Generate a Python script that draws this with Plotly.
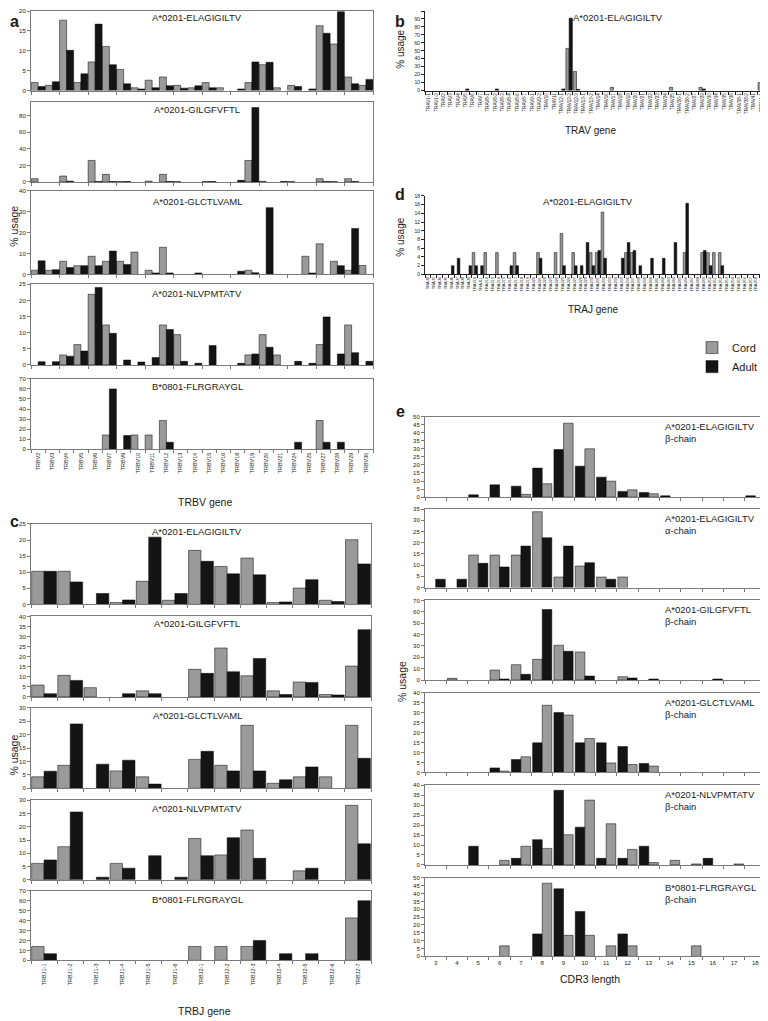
import plotly.graph_objects as go

# the page body adds an 8 px margin, so the figure is 8 px smaller than the window
PAGE_OFFSET = 8
FW, FH = 760, 1013
CORD_COLOR = "#9a9a9a"
ADULT_COLOR = "#141414"
FRAME = "#7a7a7a"
TEXT = "#1a1a1a"
FONT = "Liberation Sans, Arial, sans-serif"

# ---------------- panel a : TRBV usage ----------------
TRBV = ["TRBV2", "TRBV3", "TRBV4", "TRBV5", "TRBV6", "TRBV7", "TRBV9", "TRBV10",
        "TRBV11", "TRBV12", "TRBV13", "TRBV14", "TRBV15", "TRBV16", "TRBV18", "TRBV19",
        "TRBV20", "TRBV21", "TRBV24", "TRBV25", "TRBV27", "TRBV28", "TRBV29", "TRBV30"]
A_ELA_CORD = [2.0, 1.3, 17.7, 2.0, 7.2, 11.1, 5.3, 0.7, 2.6, 3.4, 1.3, 0.7, 2.0, 0.7, 0, 2.0, 6.5, 0.7, 1.3, 0, 16.3, 11.7, 3.4, 1.3]
A_ELA_ADULT = [1.0, 2.2, 10.1, 4.2, 16.7, 6.5, 1.7, 0.4, 0.7, 1.2, 0.6, 1.2, 0.7, 0, 0.4, 7.2, 7.1, 0, 1.0, 0.4, 14.4, 19.8, 1.7, 2.8]
A_GIL_CORD = [4, 0, 7.2, 0, 26, 9.2, 0.5, 0, 1, 9.2, 0.5, 0, 0.5, 0, 0, 26, 0.8, 0, 0.5, 0, 4, 0.5, 4, 0]
A_GIL_ADULT = [0, 0, 1, 0, 0.5, 0.5, 0.5, 0, 0, 0.5, 0, 0, 0.5, 0, 2, 90, 0, 0.5, 0, 0, 0.5, 0, 0.5, 0]
A_GLC_CORD = [2, 2, 6.3, 4.2, 8.7, 6.3, 6.3, 10.7, 2, 13, 0, 0, 0, 0, 0, 2, 0, 0, 0, 8.7, 14.7, 6.3, 2, 4.3]
A_GLC_ADULT = [6.5, 2.3, 3.3, 4.2, 4.2, 11.2, 4.8, 0, 0.7, 0.7, 0, 0.7, 0, 0, 1.5, 0.8, 32, 0, 0, 0.7, 0, 4.2, 22, 0]
A_NLV_CORD = [0, 0, 3.1, 6.3, 21.9, 12.4, 0, 0, 0, 12.4, 9.4, 0, 0, 0, 0, 3.1, 9.4, 3.1, 0, 0, 6.3, 0, 12.4, 0]
A_NLV_ADULT = [1.0, 1.0, 2.7, 4.3, 24, 9.8, 1.5, 0.9, 2.3, 11, 1.1, 0.5, 6, 0, 0.5, 3.4, 5.5, 0, 1.1, 0.5, 14.9, 3.4, 3.8, 1.1]
A_FLR_CORD = [0, 0, 0, 0, 0, 14.3, 0, 14.3, 14.3, 28.6, 0, 0, 0, 0, 0, 0, 0, 0, 0, 0, 28.6, 0, 0, 0]
A_FLR_ADULT = [0, 0, 0, 0, 0, 60, 13.7, 0, 0, 7.1, 0, 0, 0, 0, 0, 0, 0, 0, 7.1, 0, 7.1, 7.1, 0, 0]

# ---------------- panel b : TRAV usage ----------------
TRAV = ["TRAV1-1", "TRAV1-2", "TRAV2", "TRAV3", "TRAV4", "TRAV5", "TRAV6", "TRAV7",
        "TRAV8-1", "TRAV8-2", "TRAV8-3", "TRAV8-4", "TRAV8-6", "TRAV8-7", "TRAV9-1", "TRAV9-2",
        "TRAV10", "TRAV11", "TRAV12-1", "TRAV12-2", "TRAV12-3", "TRAV13-1", "TRAV13-2", "TRAV14",
        "TRAV16", "TRAV17", "TRAV18", "TRAV19", "TRAV20", "TRAV21", "TRAV22", "TRAV23",
        "TRAV24", "TRAV25", "TRAV26-1", "TRAV26-2", "TRAV27", "TRAV29", "TRAV30", "TRAV34",
        "TRAV35", "TRAV36", "TRAV38-1", "TRAV38-2", "TRAV41", "TRDV1-1"]
B_CORD = [0, 0, 0, 0, 0, 0, 0, 0, 0, 0, 0, 0, 0, 0, 0, 0, 0, 0, 0, 53, 24, 0, 0, 0,
          0, 4, 0, 0, 0, 0, 0, 0, 0, 4, 0, 0, 0, 4, 0, 0, 0, 0, 0, 0, 0, 10]
B_ADULT = [0, 0, 0, 0, 0, 2, 0, 0, 0, 2, 0, 0, 0, 0, 0, 0, 0, 0, 2, 91, 1.5, 0, 0, 0,
           0, 0, 0, 0, 0, 0, 0, 0, 0, 0, 0, 0, 0, 2, 0, 0, 0, 0, 0, 0, 0, 0]

# ---------------- panel c : TRBJ usage ----------------
TRBJ = ["TRBJ1-1", "TRBJ1-2", "TRBJ1-3", "TRBJ1-4", "TRBJ1-5", "TRBJ1-6", "TRBJ2-1",
        "TRBJ2-2", "TRBJ2-3", "TRBJ2-4", "TRBJ2-5", "TRBJ2-6", "TRBJ2-7"]
C_ELA_CORD = [10.3, 10.3, 0, 0.6, 7.2, 1.3, 16.8, 11.8, 14.4, 0.6, 5.1, 1.3, 20.1]
C_ELA_ADULT = [10.3, 7.0, 3.4, 1.4, 20.9, 3.4, 13.4, 9.5, 9.2, 0.8, 7.7, 0.9, 12.6]
C_GIL_CORD = [5.9, 10.7, 4.6, 0, 3.0, 0, 13.7, 24.3, 10.5, 3.0, 7.4, 1.2, 15.3]
C_GIL_ADULT = [1.6, 8.2, 0, 1.6, 1.6, 0, 11.7, 12.5, 19.1, 1.2, 7.2, 1.0, 33.4]
C_GLC_CORD = [4.3, 8.6, 0, 6.5, 4.3, 0, 10.8, 8.6, 23.5, 1.9, 4.3, 4.3, 23.5]
C_GLC_ADULT = [6.4, 24.0, 9.0, 10.5, 1.6, 0, 13.8, 6.5, 6.5, 3.2, 8.0, 0, 11.2]
C_NLV_CORD = [6.2, 12.5, 0, 6.2, 0, 0, 15.6, 9.4, 18.8, 0, 3.4, 0, 28.1]
C_NLV_ADULT = [7.5, 25.6, 1.0, 4.4, 9.1, 1.0, 9.1, 15.9, 8.1, 0, 4.4, 0, 13.6]
C_FLR_CORD = [14.0, 0, 0, 0, 0, 0, 14.0, 14.0, 14.0, 0, 0, 0, 42.7]
C_FLR_ADULT = [6.7, 0, 0, 0, 0, 0, 0, 0, 20.0, 6.7, 6.7, 0, 60.0]

# ---------------- panel d : TRAJ usage ----------------
TRAJ = ["TRAJ2", "TRAJ3", "TRAJ4", "TRAJ5", "TRAJ6", "TRAJ7", "TRAJ8", "TRAJ9", "TRAJ10",
        "TRAJ11", "TRAJ12", "TRAJ13", "TRAJ14", "TRAJ15", "TRAJ16", "TRAJ17", "TRAJ18",
        "TRAJ19", "TRAJ20", "TRAJ21", "TRAJ22", "TRAJ23", "TRAJ24", "TRAJ25", "TRAJ26",
        "TRAJ27", "TRAJ28", "TRAJ29", "TRAJ30", "TRAJ31", "TRAJ32", "TRAJ33", "TRAJ34",
        "TRAJ35", "TRAJ36", "TRAJ37", "TRAJ38", "TRAJ39", "TRAJ40", "TRAJ41", "TRAJ42",
        "TRAJ43", "TRAJ44", "TRAJ45", "TRAJ46", "TRAJ47", "TRAJ48", "TRAJ49", "TRAJ50",
        "TRAJ51", "TRAJ52", "TRAJ53", "TRAJ54", "TRAJ55", "TRAJ56", "TRAJ57", "TRAJ58", "TRAJ59"]
D_CORD = [0, 0, 0, 0, 0, 0, 0, 0, 5, 0,
          5, 0, 5, 0, 0, 5, 0, 0, 0, 5,
          0, 0, 5, 9.4, 0, 5, 0, 0, 5, 5,
          14.3, 0, 0, 0, 5, 5, 0, 0, 0, 0,
          0, 0, 0, 0, 5, 0, 0, 5, 5, 5,
          5, 0, 0, 0, 0, 0, 0, 0]
D_ADULT = [0, 0, 0, 0, 2, 3.7, 0, 2, 2, 2,
           0, 0, 0, 0, 2, 2, 0, 0, 0, 3.7,
           0, 0, 0, 2, 0, 2, 2, 7.3, 2, 5.5,
           3.7, 0, 0, 3.7, 7.3, 5.5, 2, 0, 3.7, 0,
           3.7, 0, 7.3, 0, 16.3, 0, 0, 5.5, 2, 0,
           2, 0, 0, 0, 0, 0, 0, 0]

# ---------------- panel e : CDR3 length ----------------
CDR3 = ["3", "4", "5", "6", "7", "8", "9", "10", "11", "12", "13", "14", "15", "16", "17", "18"]
E_ELA_B_CORD = [0, 0, 0, 0, 1.7, 8.3, 45.9, 30, 9.9, 4.5, 2.1, 0, 0, 0, 0, 0]
E_ELA_B_ADULT = [0, 0, 1.4, 7.6, 6.8, 18, 29.5, 19.2, 12.4, 3.5, 2.9, 0.8, 0, 0, 0, 0.8]
E_ELA_A_CORD = [0, 0, 14.5, 14.5, 14.5, 33.8, 4.7, 9.6, 4.7, 4.7, 0, 0, 0, 0, 0, 0]
E_ELA_A_ADULT = [3.7, 3.7, 10.8, 9.2, 18.5, 22.2, 18.5, 11.1, 3.7, 0, 0, 0, 0, 0, 0, 0]
E_GIL_CORD = [0, 1.5, 0, 8.8, 13.5, 18.2, 30.6, 24.7, 0, 2.9, 0, 0, 0, 0, 0, 0]
E_GIL_ADULT = [0, 0, 0, 0.9, 5, 62, 25.3, 3.5, 0, 1.8, 0.9, 0, 0, 0.9, 0, 0]
E_GLC_CORD = [0, 0, 0, 0.7, 7.9, 33.8, 28.9, 17.1, 4.8, 4, 3.2, 0, 0, 0, 0, 0]
E_GLC_ADULT = [0, 0, 0, 2.3, 6.5, 14.9, 30.1, 14.9, 14.9, 13, 4.5, 0, 0, 0, 0, 0]
E_NLV_CORD = [0, 0, 0, 2.3, 9.4, 8.3, 15.2, 32.6, 20.7, 7.8, 1.2, 2.3, 0.5, 0, 0.5, 0]
E_NLV_ADULT = [0, 0, 9.4, 0, 3.3, 12.7, 37.5, 19, 3.3, 3.3, 9.4, 0, 0, 3.3, 0, 0]
E_FLR_CORD = [0, 0, 0, 6.7, 0, 46.6, 13.4, 13.4, 6.7, 6.7, 0, 0, 6.7, 0, 0, 0]
E_FLR_ADULT = [0, 0, 0, 0, 0, 14.3, 43, 28.6, 0, 14.3, 0, 0, 0, 0, 0, 0]

fig = go.Figure()
annotations = []
count = [0]


def fx(x):
    # page pixel -> paper fraction
    return max(x - PAGE_OFFSET, 0) / FW


def fy(y):
    return 1 - max(y - PAGE_OFFSET, 0) / FH


def note(text, x, y, size=9.5, xanchor="center", yanchor="middle", **kw):
    annotations.append(dict(text=text, x=fx(x), y=fy(y), xref="paper", yref="paper",
                            xanchor=xanchor, yanchor=yanchor, showarrow=False,
                            font=dict(size=size, color=TEXT), **kw))


def panel(cats, cord, adult, box, ymax, dtick, framed=True, adult_left=False,
          fill=0.96, xlabels=False, xlabel_size=5.5, ytick_size=6, legend=False):
    count[0] += 1
    sfx = "" if count[0] == 1 else str(count[0])
    left, right, top, bottom = box
    half = fill / 2
    series = [("Cord", cord, CORD_COLOR), ("Adult", adult, ADULT_COLOR)]
    if adult_left:
        series = series[::-1]
    for j, (name, vals, color) in enumerate(series):
        fig.add_trace(go.Bar(
            x=cats, y=[v if v else None for v in vals], name=name,
            width=half, offset=-half if j == 0 else 0,
            marker=dict(color=color, line=dict(color="#000000", width=0.5)),
            xaxis="x" + sfx, yaxis="y" + sfx, showlegend=legend,
        ))
    line_color = FRAME if framed else "#222222"
    fig.update_layout(**{
        "xaxis" + sfx: dict(
            domain=[fx(left), fx(right)], anchor="y" + sfx, type="category",
            range=[-0.5, len(cats) - 0.5], tickson="boundaries", ticks="outside",
            ticklen=3, tickcolor=line_color, showline=True, linecolor=line_color,
            linewidth=1, mirror=framed, showticklabels=xlabels, tickangle=-90,
            tickfont=dict(size=xlabel_size, color=TEXT), showgrid=False, zeroline=False),
        "yaxis" + sfx: dict(
            domain=[fy(bottom), fy(top)], anchor="x" + sfx, range=[0, ymax],
            dtick=dtick, ticks="outside", ticklen=3, tickcolor=line_color,
            showline=True, linecolor=line_color, linewidth=1, mirror=framed,
            showgrid=False, zeroline=False, tickfont=dict(size=ytick_size, color=TEXT)),
    })


# panel a
AX = (31, 373)
panel(TRBV, A_ELA_CORD, A_ELA_ADULT, (*AX, 8, 88), 20, 5, fill=0.98)
panel(TRBV, A_GIL_CORD, A_GIL_ADULT, (*AX, 100, 180), 96, 20, fill=0.98)
panel(TRBV, A_GLC_CORD, A_GLC_ADULT, (*AX, 189, 273), 40, 10, fill=0.98)
panel(TRBV, A_NLV_CORD, A_NLV_ADULT, (*AX, 283, 364), 25, 5, fill=0.98)
panel(TRBV, A_FLR_CORD, A_FLR_ADULT, (*AX, 378, 449), 70, 10, fill=0.98, xlabels=True)
for t, y in [("A*0201-ELAGIGILTV", 15), ("A*0201-GILGFVFTL", 107), ("A*0201-GLCTLVAML", 200),
             ("A*0201-NLVPMTATV", 292), ("B*0801-FLRGRAYGL", 386)]:
    note(t, 197, y)
note("TRBV gene", 205, 502, size=10.5)
note("% usage", 14, 225, size=10.5, textangle=-90)
note("<b>a</b>", 8, 8, size=16, xanchor="left", yanchor="top")

# panel b
panel(TRAV, B_CORD, B_ADULT, (425, 765, 8, 88), 100, 10, framed=False, fill=0.88,
      xlabels=True, xlabel_size=4.5, ytick_size=5)
note("A*0201-ELAGIGILTV", 618, 15)
note("TRAV gene", 590, 128, size=10)
note("% usage", 401, 47, size=10, textangle=-90)
note("<b>b</b>", 400, 8, size=16, yanchor="top")

# panel d
panel(TRAJ, D_CORD, D_ADULT, (425, 765, 194, 273), 18, 2, framed=False, fill=0.9,
      xlabels=True, xlabel_size=4, ytick_size=5, legend=True)
note("A*0201-ELAGIGILTV", 588, 200)
note("TRAJ gene", 593, 308, size=10)
note("% usage", 401, 236, size=10, textangle=-90)
note("<b>d</b>", 400, 193, size=16)

# panel c
CX = (31, 371)
panel(TRBJ, C_ELA_CORD, C_ELA_ADULT, (*CX, 524, 605), 25, 5, fill=0.95)
panel(TRBJ, C_GIL_CORD, C_GIL_ADULT, (*CX, 617, 698), 40, 5, fill=0.95)
panel(TRBJ, C_GLC_CORD, C_GLC_ADULT, (*CX, 709, 790), 30, 5, fill=0.95)
panel(TRBJ, C_NLV_CORD, C_NLV_ADULT, (*CX, 802, 882), 30, 5, fill=0.95)
panel(TRBJ, C_FLR_CORD, C_FLR_ADULT, (*CX, 893, 963), 70, 10, fill=0.95, xlabels=True)
for t, y in [("A*0201-ELAGIGILTV", 532), ("A*0201-GILGFVFTL", 624), ("A*0201-GLCTLVAML", 717),
             ("A*0201-NLVPMTATV", 810), ("B*0801-FLRGRAYGL", 902)]:
    note(t, 197, y)
note("TRBJ gene", 205, 1014, size=10.5)
note("% usage", 14, 757, size=10.5, textangle=-90)
note("<b>c</b>", 8, 522, size=16, xanchor="left")

# panel e
EX = (425, 766)
panel(CDR3, E_ELA_B_CORD, E_ELA_B_ADULT, (*EX, 416, 497), 50, 5, adult_left=True, fill=0.9)
panel(CDR3, E_ELA_A_CORD, E_ELA_A_ADULT, (*EX, 509, 588), 35, 5, fill=0.9)
panel(CDR3, E_GIL_CORD, E_GIL_ADULT, (*EX, 601, 681), 70, 10, fill=0.9)
panel(CDR3, E_GLC_CORD, E_GLC_ADULT, (*EX, 694, 774), 40, 5, adult_left=True, fill=0.9)
panel(CDR3, E_NLV_CORD, E_NLV_ADULT, (*EX, 787, 867), 40, 5, adult_left=True, fill=0.9)
panel(CDR3, E_FLR_CORD, E_FLR_ADULT, (*EX, 880, 959), 50, 5, adult_left=True, fill=0.9,
      xlabels=True, xlabel_size=6)
fig.update_layout(**{"xaxis%d" % count[0]: dict(tickangle=0)})
for t, c, y in [("A*0201-ELAGIGILTV", "β-chain", 418), ("A*0201-ELAGIGILTV", "α-chain", 511),
                ("A*0201-GILGFVFTL", "β-chain", 603), ("A*0201-GLCTLVAML", "β-chain", 696),
                ("A*0201-NLVPMTATV", "β-chain", 789), ("B*0801-FLRGRAYGL", "β-chain", 882)]:
    note(f"{t}<br>{c}", 663, y, xanchor="left", yanchor="top", align="left")
note("CDR3 length", 590, 982, size=10.5)
note("% usage", 402, 682, size=10.5, textangle=-90)
note("<b>e</b>", 400, 411, size=16)

fig.update_layout(
    width=FW, height=FH, margin=dict(l=0, r=0, t=0, b=0),
    paper_bgcolor="white", plot_bgcolor="white",
    font=dict(family=FONT, color=TEXT),
    barmode="overlay",
    annotations=annotations,
    showlegend=True,
    legend=dict(x=fx(692), y=fy(332), xanchor="left", yanchor="top",
                font=dict(size=11), bgcolor="rgba(0,0,0,0)", tracegroupgap=2),
)

fig.write_html("out.html")
